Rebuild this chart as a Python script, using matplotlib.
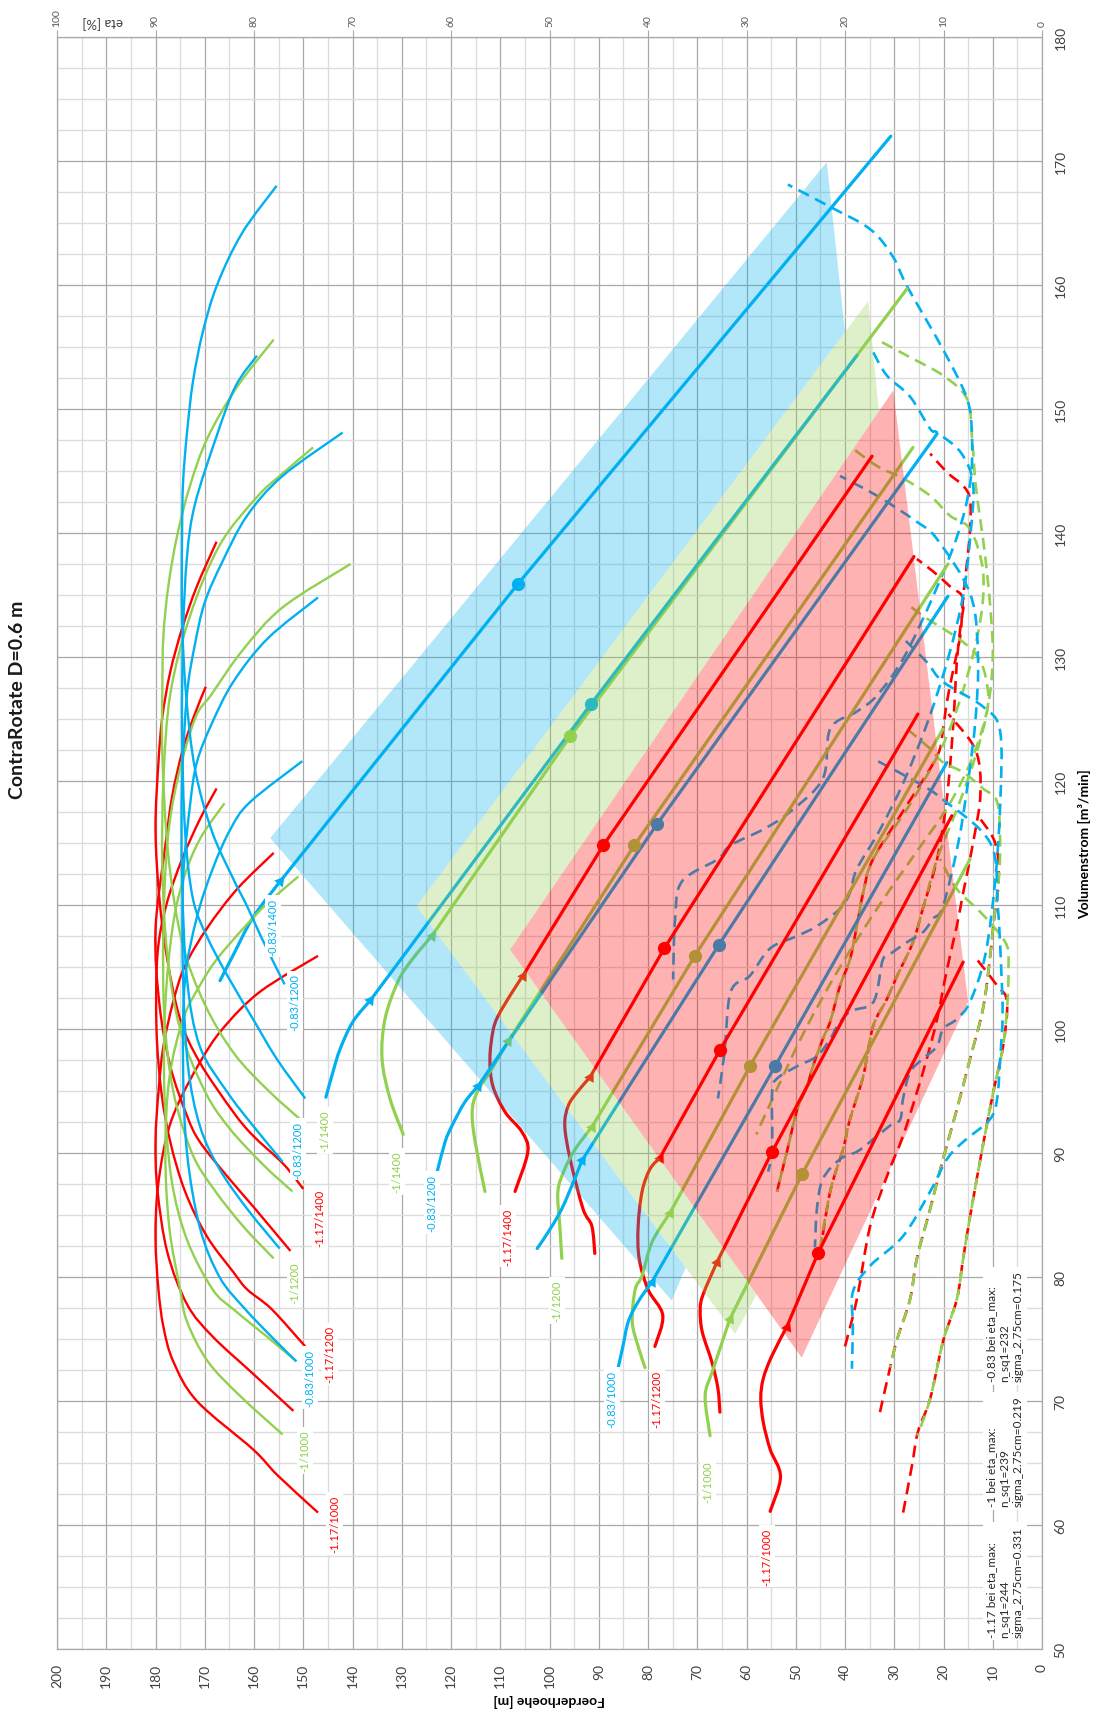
import numpy as np
import matplotlib
matplotlib.use("Agg")
import matplotlib.pyplot as plt
from matplotlib.path import Path
from matplotlib.patches import PathPatch

plt.rcParams['font.family'] = ['Lato', 'DejaVu Sans']

RED, GREEN, BLUE = '#ff0000', '#92d050', '#00b0f0'
SPEEDS = [1000, 1100, 1200, 1300, 1400]

# ---------------- head curves H(Q): lead-in up to the arrow point ----------------
hq_lead_red = {
    1000: ([61.1, 63.9, 66.1, 68.3, 70.2, 71.8, 73.6, 76.0], [55.2, 53.1, 55.2, 56.6, 57.1, 56.6, 54.9, 51.8]),
    1100: ([69.1, 71.0, 73.1, 75.6, 77.4, 78.6, 81.2], [65.4, 65.8, 67.0, 69.0, 69.4, 68.8, 66.0]),
    1200: ([74.4, 76.9, 79.0, 81.5, 84.1, 86.9, 88.7, 89.6], [78.6, 77.0, 80.0, 81.8, 82.0, 81.2, 79.6, 77.6]),
    1300: ([81.9, 84.1, 85.5, 89.5, 92.2, 93.8, 94.9, 96.1], [90.8, 91.4, 93.2, 95.8, 96.9, 96.2, 94.4, 91.8]),
    1400: ([86.9, 90.1, 91.7, 93.3, 95.4, 97.6, 99.8, 101.0, 102.7, 104.3],
           [107.0, 104.4, 105.6, 109.0, 111.5, 112.1, 111.5, 110.5, 108.0, 105.4]),
}
hq_lead_green = {
    1000: ([67.2, 70.4, 72.3, 74.2, 76.6], [67.4, 68.4, 67.0, 65.4, 63.4]),
    1100: ([72.7, 74.4, 76.4, 79.0, 80.1, 82.8, 85.2], [80.6, 82.0, 83.2, 82.6, 81.2, 79.2, 75.5]),
    1200: ([81.5, 84.1, 86.9, 88.7, 90.3, 92.1], [97.5, 97.9, 98.3, 96.9, 94.8, 91.4]),
    1300: ([86.9, 90.9, 93.3, 94.9, 96.8, 99.0], [113.1, 115.1, 115.7, 114.7, 111.7, 108.4]),
    1400: ([91.5, 94.4, 97.6, 100.8, 103.8, 105.6, 107.5], [129.7, 132.4, 134.0, 133.4, 130.8, 127.9, 123.9]),
}
hq_lead_blue = {
    1000: ([72.6, 74.4, 76.4, 78.0, 79.6], [86.1, 85.1, 84.0, 82.0, 79.2]),
    1100: ([82.3, 84.1, 86.0, 89.4], [102.5, 99.5, 96.9, 93.4]),
    1200: ([88.5, 90.9, 92.2, 94.1, 95.4], [122.8, 121.2, 119.8, 117.2, 114.5]),
    1300: ([94.5, 96.5, 98.4, 100.6, 102.3], [145.4, 144.0, 142.5, 139.9, 136.4]),
    1400: ([103.9, 105.9, 109.0, 111.9], [166.9, 164.3, 160.2, 154.7]),
}
# best-efficiency point (Q, H) and last point (Q, H) of each head curve
bep_red = {1000: (81.9, 45.5), 1100: (90.1, 54.8), 1200: (98.3, 65.4), 1300: (106.5, 76.7), 1400: (114.8, 89.1)}
end_red = {1000: (105.4, 16.0), 1100: (117.2, 18.3), 1200: (125.4, 25.2), 1300: (138.1, 26.0), 1400: (146.2, 34.5)}
bep_green = {1000: (88.3, 48.7), 1100: (97.0, 59.3), 1200: (105.9, 70.5), 1300: (114.8, 82.8), 1400: (123.6, 95.8)}
end_green = {1000: (113.7, 14.6), 1100: (124.2, 20.1), 1200: (137.5, 19.1), 1300: (146.9, 26.2), 1400: (159.7, 27.4)}
bep_blue = {1000: (97.0, 54.2), 1100: (106.8, 65.6), 1200: (116.5, 78.2), 1300: (126.2, 91.6), 1400: (135.9, 106.4)}
end_blue = {1000: (121.5, 19.3), 1100: (134.9, 19.1), 1200: (148.0, 21.3), 1300: (154.3, 37.6), 1400: (172.0, 30.7)}

# ---------------- efficiency curves eta(Q) [%] ----------------
eta_red = {
    1000: ([61.0, 64.0, 66.1, 70.0, 73.2, 76.0, 79.0, 83.0, 86.9, 90.9, 93.8, 97.3, 100.0, 103.0, 105.9],
           [73.5, 77.6, 80.1, 85.8, 88.2, 89.2, 89.7, 90.0, 89.8, 89.0, 87.8, 85.5, 83.2, 79.4, 73.5]),
    1100: ([69.2, 72.2, 75.2, 77.8, 82.0, 87.0, 91.0, 94.9, 98.6, 102.2, 105.1, 108.2, 111.3, 114.2],
           [76.0, 80.1, 84.2, 86.8, 88.8, 89.8, 90.0, 89.7, 89.2, 88.2, 87.0, 84.7, 81.7, 78.0]),
    1200: ([74.4, 77.4, 79.0, 80.4, 83.3, 86.9, 90.9, 94.9, 100.0, 106.0, 110.0, 113.7, 116.9, 119.4],
           [74.8, 78.2, 80.7, 82.1, 84.8, 87.0, 88.5, 89.4, 89.9, 89.8, 88.9, 87.3, 85.5, 83.8]),
    1300: ([82.1, 85.7, 88.1, 90.9, 93.0, 97.0, 102.0, 108.0, 114.8, 118.8, 122.3, 125.0, 127.6],
           [76.3, 80.1, 82.7, 85.5, 86.8, 88.5, 89.6, 90.0, 89.0, 88.3, 87.3, 86.2, 84.9]),
    1400: ([87.1, 89.1, 91.4, 93.3, 97.3, 100.8, 105.6, 110.5, 116.1, 121.5, 125.2, 128.8, 132.3, 135.7, 139.3],
           [75.0, 77.0, 80.1, 82.1, 85.5, 87.5, 88.8, 89.6, 90.0, 89.7, 89.3, 88.5, 87.3, 85.8, 83.8]),
}
eta_green = {
    1000: ([67.3, 70.4, 73.2, 76.4, 79.0, 84.0, 90.0, 96.0, 100.8, 103.5, 105.6, 108.1, 110.1, 112.3],
           [77.1, 81.4, 84.7, 86.8, 87.5, 88.6, 89.0, 88.6, 87.2, 85.5, 83.8, 81.1, 78.7, 75.5]),
    1100: ([73.2, 75.2, 77.4, 79.0, 83.0, 88.0, 95.0, 102.0, 108.0, 112.0, 115.3, 118.2],
           [75.7, 78.7, 82.1, 84.2, 86.8, 88.4, 89.1, 89.0, 88.3, 87.2, 85.5, 83.0]),
    1200: ([81.5, 84.0, 87.0, 90.0, 95.0, 101.0, 108.0, 115.0, 120.0, 125.0, 127.0, 130.5, 134.0, 137.5],
           [78.0, 81.0, 84.0, 86.3, 88.2, 89.1, 89.2, 88.8, 87.8, 86.0, 84.3, 81.2, 77.1, 70.2]),
    1300: ([86.9, 89.0, 92.0, 95.0, 100.0, 106.0, 113.0, 120.0, 127.0, 133.3, 139.0, 142.9, 144.8, 146.9],
           [76.1, 79.0, 82.5, 85.0, 87.5, 88.8, 89.3, 89.2, 88.5, 86.5, 83.5, 79.7, 77.1, 74.0]),
    1400: ([92.5, 95.0, 98.0, 102.0, 107.0, 114.0, 122.0, 127.7, 131.7, 135.7, 139.8, 143.8, 147.7, 151.8, 155.6],
           [75.0, 78.5, 82.0, 85.0, 87.3, 88.7, 89.3, 89.3, 89.2, 88.7, 87.8, 86.5, 84.7, 81.7, 78.0]),
}
eta_blue = {
    1000: ([73.2, 75.0, 77.5, 80.0, 84.0, 90.0, 97.0, 104.0, 109.0, 112.9, 116.1, 118.3, 121.6],
           [75.7, 78.0, 81.0, 83.5, 85.5, 86.8, 87.2, 87.0, 85.8, 84.2, 82.4, 80.4, 75.1]),
    1100: ([82.3, 85.5, 88.7, 92.2, 97.0, 104.0, 112.0, 118.0, 121.5, 124.6, 128.0, 131.5, 134.8],
           [77.4, 80.7, 83.5, 85.5, 86.7, 87.2, 87.2, 86.5, 85.8, 84.3, 82.1, 78.6, 73.5]),
    1200: ([89.3, 92.2, 94.9, 98.6, 104.0, 112.0, 120.0, 127.0, 131.0, 134.4, 137.7, 141.4, 144.6, 148.1],
           [77.1, 80.1, 82.7, 85.5, 86.8, 87.3, 87.3, 86.8, 86.0, 85.0, 83.2, 80.7, 77.1, 71.0]),
    1300: ([94.4, 97.6, 100.8, 104.3, 107.5, 110.5, 116.0, 124.0, 132.0, 138.1, 142.3, 147.8, 151.8, 154.3],
           [74.8, 77.7, 80.1, 82.7, 84.8, 86.2, 87.0, 87.3, 87.2, 86.8, 86.0, 83.8, 81.9, 79.7]),
    1400: ([103.6, 107.3, 109.9, 112.1, 116.0, 121.0, 127.0, 133.0, 140.0, 144.1, 148.1, 152.2, 156.2, 160.1, 164.2, 168.0],
           [76.9, 79.2, 80.7, 82.1, 84.3, 86.0, 86.9, 87.3, 87.3, 87.2, 86.8, 86.2, 85.2, 83.7, 81.2, 77.7]),
}

# ---------------- dashed curves (Q, value on the head scale) ----------------
dash_red = {
    1000: ([61.0, 64.8, 67.5, 70.2, 74.8, 78.2, 81.5, 84.9, 90.6, 94.9, 98.6, 102.2, 103.5, 105.6],
           [28.2, 26.4, 25.2, 22.7, 20.1, 17.3, 16.0, 14.6, 12.0, 9.9, 7.9, 7.1, 9.1, 13.2]),
    1100: ([69.1, 72.6, 75.0, 78.2, 81.5, 85.5, 89.5, 93.5, 97.6, 101.6, 105.6, 108.3, 112.0, 115.0, 117.2],
           [32.9, 30.9, 29.4, 26.8, 25.4, 22.7, 20.1, 17.3, 14.6, 12.0, 10.6, 9.9, 8.8, 9.5, 13.0]),
    1200: ([74.4, 78.2, 84.1, 88.1, 91.4, 94.9, 97.6, 100.8, 104.8, 108.3, 111.0, 115.0, 119.0, 122.5, 125.4],
           [40.0, 37.6, 34.9, 31.5, 28.2, 25.4, 23.4, 21.3, 19.3, 17.3, 16.0, 14.0, 12.5, 13.5, 19.0]),
    1300: ([81.9, 86.9, 90.3, 92.7, 96.2, 100.2, 102.4, 104.3, 107.0, 109.7, 113.7, 118.0, 122.0, 126.0,
            129.6, 132.3, 134.7, 135.7, 136.9, 137.9],
           [45.1, 43.0, 40.4, 39.0, 36.3, 34.3, 31.5, 29.4, 26.2, 24.2, 21.3, 19.5, 18.5, 17.8,
            17.3, 16.6, 16.0, 18.7, 22.1, 25.4]),
    1400: ([86.9, 90.1, 93.5, 95.4, 97.0, 99.2, 100.6, 103.5, 105.6, 108.3, 111.0, 113.7, 118.0, 122.0,
            124.2, 126.4, 129.0, 131.7, 134.9, 137.7, 140.3, 142.7, 143.8, 144.9, 146.4],
           [53.8, 51.8, 49.7, 47.7, 46.5, 44.5, 43.0, 41.0, 39.0, 37.6, 36.3, 34.3, 27.5, 21.3,
            20.1, 19.3, 18.0, 16.6, 16.0, 15.2, 14.6, 14.6, 16.0, 19.3, 22.7]),
}
dash_green = {
    1000: ([67.2, 70.2, 74.8, 78.2, 81.5, 84.9, 90.6, 94.9, 98.6, 102.2, 105.0, 106.7, 108.3, 109.7, 111.3, 113.7],
           [25.3, 22.7, 20.1, 17.3, 16.0, 14.6, 12.0, 9.9, 7.9, 7.0, 6.8, 7.1, 9.9, 13.2, 17.3, 20.7]),
    1100: ([72.7, 75.0, 78.2, 81.5, 85.5, 89.5, 93.5, 97.6, 101.6, 105.6, 108.3, 112.0, 115.0, 118.3,
            119.4, 120.7, 121.5, 122.6, 124.2],
           [30.8, 29.4, 26.8, 25.4, 22.7, 20.1, 17.3, 14.6, 12.0, 10.6, 9.9, 8.8, 8.5, 9.1,
            12.0, 16.0, 20.1, 22.7, 27.4]),
    1200: ([81.5, 86.9, 90.3, 92.7, 96.2, 100.2, 102.4, 104.3, 107.0, 109.7, 113.7, 118.0, 122.0, 126.0,
            128.5, 130.1, 131.2, 132.3, 133.1, 134.1],
           [45.4, 43.0, 40.4, 39.0, 36.3, 34.3, 31.5, 29.4, 26.2, 24.2, 21.3, 17.0, 13.5, 11.0,
            11.5, 13.2, 16.0, 20.1, 23.4, 26.8]),
    1300: ([86.9, 90.1, 93.5, 95.4, 97.0, 99.2, 100.6, 103.5, 105.6, 108.3, 111.0, 113.7, 118.0, 123.0,
            128.0, 133.0, 137.0, 140.3, 141.4, 143.0, 144.4, 145.4, 147.0],
           [53.8, 51.8, 49.7, 47.7, 46.5, 44.5, 43.0, 41.0, 39.0, 37.6, 36.3, 34.3, 27.0, 20.0,
            15.5, 12.5, 12.0, 14.6, 18.7, 22.7, 28.2, 33.5, 39.0]),
    1400: ([91.5, 95.0, 100.0, 105.0, 110.0, 114.0, 118.0, 122.0, 126.0, 130.0, 134.0, 138.0, 141.0,
            144.0, 147.6, 150.8, 152.7, 154.3, 155.6],
           [58.0, 54.0, 48.0, 41.0, 33.0, 26.0, 19.0, 14.0, 11.0, 10.0, 10.5, 11.5, 12.5,
            13.5, 14.2, 15.2, 20.1, 27.4, 33.5]),
}
dash_blue = {
    1000: ([72.6, 76.0, 78.8, 80.9, 83.3, 86.9, 89.5, 90.9, 92.7, 94.4, 97.6, 101.0, 105.0, 110.0,
            115.0, 118.5, 119.9, 121.8],
           [38.6, 38.4, 38.4, 34.9, 28.2, 22.7, 19.3, 16.0, 10.6, 9.1, 8.5, 8.0, 8.3, 9.0,
            10.5, 20.1, 25.4, 34.3]),
    1100: ([82.4, 85.5, 87.9, 89.5, 90.1, 90.9, 92.2, 92.7, 94.4, 96.5, 97.6, 98.6, 100.0, 100.8, 102.2,
            106.0, 112.0, 118.0, 124.0, 126.0, 128.0, 129.6, 131.5],
           [46.1, 45.7, 44.5, 41.0, 37.6, 34.9, 30.9, 28.8, 28.2, 26.8, 24.2, 21.3, 20.1, 17.3, 14.6,
            11.5, 9.5, 8.5, 8.5, 12.0, 20.1, 23.4, 28.2]),
    1200: ([88.5, 90.3, 94.9, 96.0, 97.0, 97.8, 99.2, 100.2, 101.4, 101.9, 103.0, 105.6, 106.2, 107.0,
            107.8, 108.9, 109.9, 115.0, 120.0, 125.0, 130.0, 135.0, 139.5, 140.9, 143.0, 144.6],
           [55.6, 54.8, 54.8, 53.8, 49.7, 45.7, 43.0, 41.6, 39.0, 34.9, 33.5, 32.3, 30.3, 27.4,
            24.2, 22.1, 20.1, 17.0, 15.0, 13.5, 13.0, 14.5, 21.3, 25.4, 33.5, 41.0]),
    1300: ([94.4, 98.0, 103.0, 104.3, 106.5, 107.5, 108.3, 109.7, 111.0, 112.9, 116.0, 120.0, 125.0,
            130.0, 135.0, 140.0, 144.0, 146.5, 148.1, 148.4, 151.0, 152.7, 154.6],
           [65.8, 64.5, 63.2, 59.3, 55.2, 49.7, 45.7, 41.0, 39.0, 37.6, 33.0, 28.0, 23.0,
            19.0, 16.0, 14.5, 14.0, 16.5, 21.3, 22.7, 26.8, 31.5, 34.3]),
    1400: ([104.0, 108.9, 111.9, 113.7, 114.8, 116.1, 117.5, 120.2, 124.2, 125.6, 126.9, 130.0, 135.0,
            140.0, 144.0, 147.6, 150.8, 154.8, 159.9, 162.3, 164.5, 166.3, 168.1],
           [74.9, 74.5, 73.1, 65.8, 63.3, 56.6, 51.2, 44.5, 43.0, 37.6, 33.5, 28.0, 22.0,
            17.0, 14.6, 14.2, 15.2, 20.1, 27.4, 30.3, 34.9, 43.0, 51.6]),
}

# ---------------- operating ranges (H, Q corners) ----------------
range_blue_H = [156.7, 43.7, 40.0, 30.2, 75.2]
range_blue_Q = [115.4, 169.9, 156.2, 120.0, 78.1]
range_green_H = [127.0, 35.3, 22.0, 62.3]
range_green_Q = [109.9, 158.7, 105.0, 75.4]
range_red_H = [108.0, 30.2, 15.0, 48.8]
range_red_Q = [106.4, 151.5, 102.2, 73.5]

# ---------------- curve labels: text, colour, (H, Q) ----------------
eta_labels = [
    ("-0.83/1400", BLUE, 156.1, 108.3), ("-0.83/1200", BLUE, 151.7, 102.2),
    ("-1/1400", GREEN, 145.6, 91.8), ("-0.83/1200", BLUE, 151.1, 90.3),
    ("-1.17/1400", RED, 146.6, 84.8), ("-1/1200", GREEN, 151.7, 79.6),
    ("-1.17/1200", RED, 144.6, 73.8), ("-0.83/1000", BLUE, 148.6, 71.9),
    ("-1/1000", GREEN, 149.6, 66.0), ("-1.17/1000", RED, 143.6, 60.1),
]
head_labels = [
    ("-1/1400", GREEN, 131.0, 88.5), ("-0.83/1200", BLUE, 123.9, 86.0),
    ("-1.17/1400", RED, 108.4, 83.3), ("-1/1200", GREEN, 98.5, 78.1),
    ("-0.83/1000", BLUE, 87.3, 70.2), ("-1.17/1200", RED, 78.2, 70.2),
    ("-1/1000", GREEN, 67.8, 63.5), ("-1.17/1000", RED, 55.8, 57.5),
]
info_texts = [
    ("-1.17 bei eta_max:\nn_sq1=244\nsigma_2.75cm=0.331", 51.0),
    ("-1 bei eta_max:\nn_sq1=239\nsigma_2.75cm=0.219", 61.5),
    ("-0.83 bei eta_max:\nn_sq1=232\nsigma_2.75cm=0.175", 71.6),
]

H_TICKS = list(range(0, 201, 10))
Q_TICKS = list(range(50, 181, 10))
ETA_TICKS = list(range(0, 101, 10))


def smooth_path(xs, ys):
    """Cubic Bezier path through the given points (Catmull-Rom tangents)."""
    p = np.column_stack([xs, ys]).astype(float)
    n = len(p)
    verts, codes = [p[0]], [Path.MOVETO]
    for i in range(n - 1):
        p0 = p[i - 1] if i > 0 else p[i]
        p1, p2 = p[i], p[i + 1]
        p3 = p[i + 2] if i + 2 < n else p[i + 1]
        verts += [p1 + (p2 - p0) / 6.0, p2 - (p3 - p1) / 6.0, p2]
        codes += [Path.CURVE4] * 3
    return Path(verts, codes)


def signed_area(xs, ys):
    x, y = np.asarray(xs), np.asarray(ys)
    return 0.5 * np.sum(x * np.roll(y, -1) - np.roll(x, -1) * y)


def outside_of(xs, ys):
    """Path covering everything except the given polygon."""
    outer = np.array([[-100, -100], [400, -100], [400, 400], [-100, 400], [-100, -100]], float)
    inner = np.column_stack([xs, ys]).astype(float)
    if np.sign(signed_area(inner[:, 0], inner[:, 1])) == np.sign(signed_area(outer[:-1, 0], outer[:-1, 1])):
        inner = inner[::-1]
    inner = np.vstack([inner, inner[:1]])
    verts = np.vstack([outer, inner])
    codes = ([Path.MOVETO] + [Path.LINETO] * 3 + [Path.CLOSEPOLY] +
             [Path.MOVETO] + [Path.LINETO] * (len(inner) - 2) + [Path.CLOSEPOLY])
    return Path(verts, codes)


W, Hpx = 1102, 1715
fig = plt.figure(figsize=(W / 100, Hpx / 100), dpi=100)
ax = fig.add_axes([57 / W, 65 / Hpx, (1042 - 57) / W, (1650 - 38) / Hpx])
ax.set_xlim(200, 0)
ax.set_ylim(50, 180)

# grid
ax.set_xticks(H_TICKS)
ax.set_xticks(np.arange(5, 200, 10), minor=True)
ax.set_yticks(Q_TICKS)
ax.set_yticks(np.arange(50, 180.1, 2.5), minor=True)
ax.grid(which='major', color='#a8a8a8', lw=0.9, zorder=0)
ax.grid(which='minor', color='#dcdcdc', lw=1.0, zorder=0)
ax.set_axisbelow(True)
for s in ax.spines.values():
    s.set_color('#a8a8a8')
    s.set_linewidth(0.9)

TICK_COLOR = '#404040'
ax.tick_params(axis='x', which='both', length=0, pad=10, labelsize=10, labelcolor=TICK_COLOR,
               labelrotation=90)
ax.yaxis.tick_right()
ax.tick_params(axis='y', which='both', length=0, pad=9, labelsize=10, labelcolor=TICK_COLOR,
               labelrotation=90)
for lab in ax.get_yticklabels():
    lab.set_va('center')
ax.set_xlabel('Foerderhoehe [m]', rotation=180, fontsize=10, fontweight='bold', labelpad=4)
ax.yaxis.set_label_position('right')
ax.set_ylabel('Volumenstrom [m³/min]', rotation=90, fontsize=10, fontweight='bold', labelpad=8)

families = [
    (RED, hq_lead_red, bep_red, end_red, eta_red, dash_red, 0.0),
    (GREEN, hq_lead_green, bep_green, end_green, eta_green, dash_green, 3.5),
    (BLUE, hq_lead_blue, bep_blue, end_blue, eta_blue, dash_blue, 1.5),
]

# dashed curves
for col, lead, bep, end, eta, dash, off in families:
    for sp in SPEEDS:
        q, h = dash[sp]
        ax.add_patch(PathPatch(smooth_path(h, q), fill=False, ec=col, lw=1.9,
                               ls=(off, (4.5, 2.6)), zorder=2))

# head curves with arrow at the start of the straight part and BEP dot
for col, lead, bep, end, eta, dash, off in families:
    for sp in SPEEDS:
        q, h = lead[sp]
        ax.add_patch(PathPatch(smooth_path(h, q), fill=False, ec=col, lw=2.3, zorder=3,
                               capstyle='round'))
        qs = [q[-1], bep[sp][0], end[sp][0]]
        hs = [h[-1], bep[sp][1], end[sp][1]]
        ax.plot(hs, qs, color=col, lw=2.3, zorder=3, solid_capstyle='round')
        ax.plot([bep[sp][1]], [bep[sp][0]], 'o', color=col, ms=8.5, zorder=4)
        p0 = ax.transData.transform((h[-1], q[-1]))
        p1 = ax.transData.transform((bep[sp][1], bep[sp][0]))
        ang = np.degrees(np.arctan2(p1[1] - p0[1], p1[0] - p0[0]))
        ax.plot([h[-1]], [q[-1]], marker=(3, 0, ang - 90), color=col, ms=9, zorder=4, mew=0)

# operating ranges drawn translucent over the curves, without overlapping each other
blue_patch = PathPatch(Path(np.column_stack([range_blue_H, range_blue_Q])), fc=BLUE,
                       ec='none', alpha=0.30, zorder=5)
ax.add_patch(blue_patch)
blue_patch.set_clip_path(outside_of(range_green_H, range_green_Q), ax.transData)
green_patch = PathPatch(Path(np.column_stack([range_green_H, range_green_Q])), fc=GREEN,
                        ec='none', alpha=0.30, zorder=5)
ax.add_patch(green_patch)
green_patch.set_clip_path(outside_of(range_red_H, range_red_Q), ax.transData)
red_patch = PathPatch(Path(np.column_stack([range_red_H, range_red_Q])), fc=RED,
                      ec='none', alpha=0.30, zorder=5)
ax.add_patch(red_patch)

# efficiency axis on top
ax2 = ax.twiny()
ax2.set_xlim(100, 0)
ax2.set_xticks(ETA_TICKS)
ax2.tick_params(axis='x', direction='out', length=5, width=0.8, color='#a8a8a8', pad=3,
                labelsize=7.5, labelcolor='#595959', labelrotation=90)
for s in ax2.spines.values():
    s.set_visible(False)

for col, lead, bep, end, eta, dash, off in families:
    for sp in SPEEDS:
        q, e = eta[sp]
        ax2.add_patch(PathPatch(smooth_path(e, q), fill=False, ec=col, lw=1.7, zorder=3))

lab_box = dict(boxstyle='square,pad=0.25', fc='white', ec='none')
for txt, col, hh, qq in eta_labels + head_labels:
    ax2.text(hh, qq, txt, transform=ax.transData, color=col, fontsize=8, rotation=90,
             ha='center', va='center', bbox=lab_box, zorder=6)

for txt, qq in info_texts:
    ax2.text(11.3, qq, txt, transform=ax.transData, fontsize=8.5, color='#262626', rotation=90,
             rotation_mode='anchor', ha='left', va='top', linespacing=1.25,
             bbox=dict(boxstyle='square,pad=0.3', fc='white', ec='none'), zorder=6)

fig.text(18 / W, 1 - 700 / Hpx, 'ContraRotate D=0.6 m', rotation=90, ha='center', va='center',
         fontsize=14, fontweight='bold', color='#1a1a1a')
fig.text(103 / W, 1 - 22 / Hpx, 'eta [%]', rotation=180, ha='center', va='center',
         fontsize=9.5, color='#404040')

fig.savefig('out.png', dpi=100)
